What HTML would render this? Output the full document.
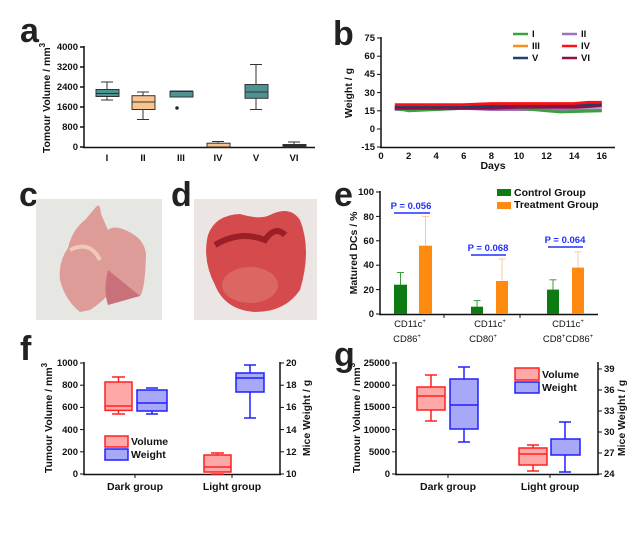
<!DOCTYPE html>
<html><head><meta charset="utf-8"><style>
html,body{margin:0;padding:0;background:#fff;}
svg{display:block;font-family:"Liberation Sans",Arial,sans-serif;}
.t{font-size:9.5px;font-weight:bold;fill:#111;}
.big{font-size:34px;font-weight:bold;fill:#222;}
.lab{font-size:10.5px;font-weight:bold;fill:#111;}
</style></head><body>
<svg width="639" height="549" viewBox="0 0 639 549" xmlns="http://www.w3.org/2000/svg">
<!-- panel a -->
<text class="big" x="20" y="42">a</text>
<g stroke="#111" stroke-width="1.5" fill="none">
<line x1="84" y1="46" x2="84" y2="148"/><line x1="83" y1="147.5" x2="315" y2="147.5"/>
<line x1="80" y1="47" x2="84" y2="47"/><line x1="80" y1="67" x2="84" y2="67"/><line x1="80" y1="87" x2="84" y2="87"/><line x1="80" y1="107" x2="84" y2="107"/><line x1="80" y1="127" x2="84" y2="127"/><line x1="80" y1="147" x2="84" y2="147"/>
</g>
<g class="t" text-anchor="end"><text x="78" y="50">4000</text><text x="78" y="70">3200</text><text x="78" y="90">2400</text><text x="78" y="110">1600</text><text x="78" y="130">800</text><text x="78" y="150">0</text></g>
<g class="t" text-anchor="middle"><text x="107" y="161">I</text><text x="143" y="161">II</text><text x="181" y="161">III</text><text x="218" y="161">IV</text><text x="256" y="161">V</text><text x="294" y="161">VI</text></g>
<text class="lab" transform="translate(50,98) rotate(-90)" text-anchor="middle">Tomour Volume / mm<tspan dy="-5" font-size="8">3</tspan></text>
<g stroke="#333" stroke-width="1">
<line x1="107" y1="82" x2="107" y2="100"/><line x1="101" y1="82" x2="113" y2="82"/><line x1="101" y1="100" x2="113" y2="100"/>
<rect x="96" y="89.5" width="23" height="7" fill="#4e9393"/><line x1="96" y1="93.5" x2="119" y2="93.5"/>
<line x1="143" y1="92" x2="143" y2="119.5"/><line x1="137" y1="92" x2="149" y2="92"/><line x1="137" y1="119.5" x2="149" y2="119.5"/>
<rect x="132" y="95.7" width="23" height="13.8" fill="#f9c48e"/><line x1="132" y1="102" x2="155" y2="102"/>
<line x1="170" y1="91" x2="193" y2="91"/>
<rect x="170" y="91.5" width="23" height="5.5" fill="#4e9393"/><circle cx="177" cy="108" r="1.3" fill="#111"/>
<line x1="218" y1="141.5" x2="218" y2="143"/><line x1="212" y1="141.5" x2="224" y2="141.5"/>
<rect x="207" y="143.2" width="23" height="3.8" fill="#f9c48e"/>
<line x1="256" y1="64.5" x2="256" y2="109.5"/><line x1="250" y1="64.5" x2="262" y2="64.5"/><line x1="250" y1="109.5" x2="262" y2="109.5"/>
<rect x="245" y="84.5" width="23" height="13.8" fill="#4e9393"/><line x1="245" y1="92" x2="268" y2="92"/>
<line x1="294" y1="142" x2="294" y2="144.5"/><line x1="288" y1="142" x2="300" y2="142"/>
<rect x="283" y="144.5" width="23" height="2.5" fill="#3a2a1a"/>
</g>
<!-- panel b -->
<text class="big" x="333" y="45">b</text>
<g stroke="#111" stroke-width="1.5" fill="none">
<line x1="381" y1="37" x2="381" y2="148"/><line x1="380" y1="147.5" x2="615" y2="147.5"/>
</g>
<g stroke="#111" stroke-width="1">
<line x1="377" y1="38" x2="381" y2="38"/><line x1="377" y1="56.2" x2="381" y2="56.2"/><line x1="377" y1="74.4" x2="381" y2="74.4"/><line x1="377" y1="92.6" x2="381" y2="92.6"/><line x1="377" y1="110.8" x2="381" y2="110.8"/><line x1="377" y1="129" x2="381" y2="129"/><line x1="377" y1="147" x2="381" y2="147"/>
</g>
<g class="t" text-anchor="end"><text x="375" y="41">75</text><text x="375" y="59">60</text><text x="375" y="77">45</text><text x="375" y="96">30</text><text x="375" y="114">15</text><text x="375" y="132">0</text><text x="375" y="150">-15</text></g>
<g class="t" text-anchor="middle"><text x="381" y="159">0</text><text x="408.6" y="159">2</text><text x="436.2" y="159">4</text><text x="463.8" y="159">6</text><text x="491.4" y="159">8</text><text x="519" y="159">10</text><text x="546.6" y="159">12</text><text x="574.2" y="159">14</text><text x="601.8" y="159">16</text></g>
<text class="lab" x="493" y="169" text-anchor="middle">Days</text>
<text class="lab" transform="translate(352,93) rotate(-90)" text-anchor="middle">Weight / g</text>
<g fill="none" stroke-width="2.8" stroke-linejoin="round">
<polyline stroke="#a070c0" points="394.8,109.6 436,109.6 463.8,108.4 491,109.6 546,109.6 601.8,109.6"/>
<polyline stroke="#3aa040" points="394.8,108.4 408.6,110.8 463.8,108.4 519,108.4 546.6,110.8 560,112 601.8,110.8"/>
<polyline stroke="#ff8c1a" points="394.8,107.2 408.6,106 463.8,106 491.4,104.7 574,104.7 601.8,103.5"/>
<polyline stroke="#1f3f70" points="394.8,107.2 463.8,107.2 491.4,106 546.6,106 560,104.7 601.8,104.7"/>
<polyline stroke="#8b1045" points="394.8,108.4 491.4,108.4 519,107.2 574,107.2 601.8,106"/>
<polyline stroke="#ff1010" points="394.8,104.7 463.8,104.7 491.4,103.5 574,103.5 588,102.3 601.8,102.3"/>
</g>
<g stroke-width="2.5">
<line x1="513" y1="34" x2="528" y2="34" stroke="#3aa040"/><line x1="562" y1="34" x2="577" y2="34" stroke="#a070c0"/>
<line x1="513" y1="46" x2="528" y2="46" stroke="#ff8c1a"/><line x1="562" y1="46" x2="577" y2="46" stroke="#ff1010"/>
<line x1="513" y1="58" x2="528" y2="58" stroke="#1f3f70"/><line x1="562" y1="58" x2="577" y2="58" stroke="#8b1045"/>
</g>
<g class="t"><text x="532" y="37">I</text><text x="581" y="37">II</text><text x="532" y="49">III</text><text x="581" y="49">IV</text><text x="532" y="61">V</text><text x="581" y="61">VI</text></g>
<!-- photos -->
<text class="big" x="19" y="206">c</text>
<rect x="36" y="199" width="126" height="121" fill="#e6e6e3"/>
<path d="M96,207 Q100,202 101,214 L108,230 Q114,225 125,230 Q145,238 146,255 Q145,290 140,296 L108,305 L112,290 Q105,300 90,310 L80,312 Q65,300 60,280 Q58,262 68,248 Q72,230 85,220 Z" fill="#dd9c98"/>
<path d="M108,270 Q103,290 108,305 Q125,300 140,296" fill="#c9707a"/>
<path d="M70,250 Q90,240 100,260" stroke="#f0c8b8" stroke-width="4" fill="none"/>
<text class="big" x="171" y="206">d</text>
<rect x="194" y="199" width="123" height="121" fill="#ebe5e3"/>
<path d="M208,235 Q215,215 240,214 Q260,220 270,215 Q290,205 300,220 Q312,250 300,290 Q285,312 255,312 Q225,310 215,285 Q202,260 208,235 Z" fill="#d54a4c"/>
<path d="M215,245 Q240,230 265,240 Q275,225 285,235" stroke="#9c1e26" stroke-width="6" fill="none"/>
<ellipse cx="250" cy="285" rx="28" ry="18" fill="#e07a72" opacity="0.6"/>
<!-- panel e -->
<text class="big" x="334" y="206">e</text>
<g stroke="#111" stroke-width="1.5" fill="none">
<line x1="380" y1="191" x2="380" y2="315"/><line x1="379" y1="314.5" x2="598" y2="314.5"/>
</g>
<g stroke="#111" stroke-width="1">
<line x1="376" y1="192" x2="380" y2="192"/><line x1="376" y1="216.4" x2="380" y2="216.4"/><line x1="376" y1="240.8" x2="380" y2="240.8"/><line x1="376" y1="265.2" x2="380" y2="265.2"/><line x1="376" y1="289.6" x2="380" y2="289.6"/><line x1="376" y1="314" x2="380" y2="314"/>
<line x1="444" y1="314" x2="444" y2="318"/><line x1="520" y1="314" x2="520" y2="318"/>
</g>
<g class="t" text-anchor="end"><text x="374" y="195">100</text><text x="374" y="220">80</text><text x="374" y="244">60</text><text x="374" y="268">40</text><text x="374" y="293">20</text><text x="374" y="317">0</text></g>
<text class="lab" transform="translate(357,253) rotate(-90)" text-anchor="middle" font-size="10">Matured DCs / %</text>
<g stroke-width="1">
<line x1="400.5" y1="272.5" x2="400.5" y2="285" stroke="#3aa040"/><line x1="397" y1="272.5" x2="404" y2="272.5" stroke="#3aa040"/>
<rect x="394" y="284.7" width="13" height="29.3" fill="#0e7a12"/>
<line x1="425.5" y1="216.4" x2="425.5" y2="246" stroke="#fcc898"/><line x1="422" y1="216.4" x2="429" y2="216.4" stroke="#fcc898"/>
<rect x="419" y="245.7" width="13" height="68.3" fill="#ff8a10"/>
<line x1="477" y1="300.6" x2="477" y2="307" stroke="#3aa040"/><line x1="473.5" y1="300.6" x2="480.5" y2="300.6" stroke="#3aa040"/>
<rect x="471" y="306.7" width="12" height="7.3" fill="#0e7a12"/>
<line x1="502" y1="259" x2="502" y2="281" stroke="#fcc898"/><line x1="498.5" y1="259" x2="505.5" y2="259" stroke="#fcc898"/>
<rect x="496" y="281" width="12" height="33" fill="#ff8a10"/>
<line x1="553" y1="279.8" x2="553" y2="290" stroke="#3aa040"/><line x1="549.5" y1="279.8" x2="556.5" y2="279.8" stroke="#3aa040"/>
<rect x="547" y="289.6" width="12" height="24.4" fill="#0e7a12"/>
<line x1="578" y1="251.8" x2="578" y2="268" stroke="#fcc898"/><line x1="574.5" y1="251.8" x2="581.5" y2="251.8" stroke="#fcc898"/>
<rect x="572" y="267.6" width="12" height="46.4" fill="#ff8a10"/>
</g>
<g stroke="#2030ff" stroke-width="1.5"><line x1="394" y1="213" x2="430" y2="213"/><line x1="471" y1="255" x2="506" y2="255"/><line x1="548" y1="247" x2="583" y2="247"/></g>
<g class="t" fill="#2030ff" style="fill:#2030ff" text-anchor="middle" font-size="9.5"><text x="411" y="209">P = 0.056</text><text x="488" y="251">P = 0.068</text><text x="565" y="243">P = 0.064</text></g>
<rect x="497" y="189" width="14" height="7" fill="#0e7a12"/><rect x="497" y="202" width="14" height="7" fill="#ff8a10"/>
<g class="lab" font-size="10"><text x="514" y="196">Control Group</text><text x="514" y="208">Treatment Group</text></g>
<g class="t" text-anchor="middle" font-size="9.5" style="font-weight:normal">
<text x="410" y="327">CD11c<tspan dy="-4" font-size="6">+</tspan></text><text x="490" y="327">CD11c<tspan dy="-4" font-size="6">+</tspan></text><text x="568" y="327">CD11c<tspan dy="-4" font-size="6">+</tspan></text>
<text x="407" y="342">CD86<tspan dy="-4" font-size="6">+</tspan></text><text x="483" y="342">CD80<tspan dy="-4" font-size="6">+</tspan></text><text x="568" y="342">CD8<tspan dy="-4" font-size="6">+</tspan><tspan dy="4">CD86</tspan><tspan dy="-4" font-size="6">+</tspan></text>
</g>
<!-- panel f -->
<text class="big" x="20" y="360">f</text>
<g stroke="#111" stroke-width="1.5" fill="none">
<line x1="84" y1="362" x2="84" y2="475"/><line x1="280" y1="362" x2="280" y2="475"/><line x1="83" y1="474.5" x2="281" y2="474.5"/>
</g>
<g stroke="#111" stroke-width="1">
<line x1="80" y1="363" x2="84" y2="363"/><line x1="80" y1="385.2" x2="84" y2="385.2"/><line x1="80" y1="407.4" x2="84" y2="407.4"/><line x1="80" y1="429.6" x2="84" y2="429.6"/><line x1="80" y1="451.8" x2="84" y2="451.8"/><line x1="80" y1="474" x2="84" y2="474"/>
<line x1="280" y1="363" x2="284" y2="363"/><line x1="280" y1="385.2" x2="284" y2="385.2"/><line x1="280" y1="407.4" x2="284" y2="407.4"/><line x1="280" y1="429.6" x2="284" y2="429.6"/><line x1="280" y1="451.8" x2="284" y2="451.8"/><line x1="280" y1="474" x2="284" y2="474"/>
<line x1="135" y1="474" x2="135" y2="478"/><line x1="232" y1="474" x2="232" y2="478"/>
</g>
<g class="t" text-anchor="end"><text x="78" y="366">1000</text><text x="78" y="388">800</text><text x="78" y="410">600</text><text x="78" y="433">400</text><text x="78" y="455">200</text><text x="78" y="477">0</text></g>
<g class="t"><text x="286" y="366">20</text><text x="286" y="388">18</text><text x="286" y="410">16</text><text x="286" y="433">14</text><text x="286" y="455">12</text><text x="286" y="477">10</text></g>
<g class="lab" text-anchor="middle"><text x="135" y="490">Dark group</text><text x="232" y="490">Light group</text></g>
<text class="lab" transform="translate(52,418) rotate(-90)" text-anchor="middle">Tumour Volume / mm<tspan dy="-5" font-size="8">3</tspan></text>
<text class="lab" transform="translate(310,418) rotate(-90)" text-anchor="middle">Mice Weight / g</text>
<g stroke-width="1.5">
<g stroke="#ff2020"><line x1="118.5" y1="377" x2="118.5" y2="382"/><line x1="112" y1="377" x2="125" y2="377"/><line x1="118.5" y1="410" x2="118.5" y2="414"/><line x1="112" y1="414" x2="125" y2="414"/>
<rect x="105" y="382" width="27" height="28.4" fill="#ffa8a8"/><line x1="105" y1="406" x2="132" y2="406"/>
<line x1="217.5" y1="453" x2="217.5" y2="455"/><line x1="211" y1="453" x2="224" y2="453"/><line x1="211" y1="474" x2="224" y2="474"/>
<rect x="204" y="455" width="27" height="17" fill="#ffa8a8"/><line x1="204" y1="467" x2="231" y2="467"/>
<rect x="105" y="436" width="23" height="11" fill="#ffa8a8"/></g>
<g stroke="#2020ff"><line x1="146" y1="388" x2="158" y2="388"/><line x1="146" y1="414" x2="158" y2="414"/><line x1="152" y1="411" x2="152" y2="414"/>
<rect x="137" y="390" width="30" height="21" fill="#a8a8f8"/><line x1="137" y1="403" x2="167" y2="403"/>
<line x1="250" y1="365" x2="250" y2="373"/><line x1="244" y1="365" x2="256" y2="365"/><line x1="250" y1="392" x2="250" y2="418"/><line x1="244" y1="418" x2="256" y2="418"/>
<rect x="236" y="373" width="28" height="19" fill="#a8a8f8"/><line x1="236" y1="378" x2="264" y2="378"/>
<rect x="105" y="449" width="23" height="11" fill="#a8a8f8"/></g>
</g>
<g class="lab"><text x="131" y="445">Volume</text><text x="131" y="458">Weight</text></g>
<!-- panel g -->
<text class="big" x="334" y="366">g</text>
<g stroke="#111" stroke-width="1.5" fill="none">
<line x1="396" y1="362" x2="396" y2="475"/><line x1="598" y1="362" x2="598" y2="475"/><line x1="395" y1="474.5" x2="599" y2="474.5"/>
</g>
<g stroke="#111" stroke-width="1">
<line x1="392" y1="363" x2="396" y2="363"/><line x1="392" y1="385.2" x2="396" y2="385.2"/><line x1="392" y1="407.4" x2="396" y2="407.4"/><line x1="392" y1="429.6" x2="396" y2="429.6"/><line x1="392" y1="451.8" x2="396" y2="451.8"/><line x1="392" y1="474" x2="396" y2="474"/>
<line x1="598" y1="369" x2="602" y2="369"/><line x1="598" y1="390" x2="602" y2="390"/><line x1="598" y1="411" x2="602" y2="411"/><line x1="598" y1="432" x2="602" y2="432"/><line x1="598" y1="453" x2="602" y2="453"/><line x1="598" y1="474" x2="602" y2="474"/>
<line x1="448" y1="474" x2="448" y2="478"/><line x1="550" y1="474" x2="550" y2="478"/>
</g>
<g class="t" text-anchor="end"><text x="390" y="366">25000</text><text x="390" y="388">20000</text><text x="390" y="410">15000</text><text x="390" y="433">10000</text><text x="390" y="455">5000</text><text x="390" y="477">0</text></g>
<g class="t"><text x="604" y="372">39</text><text x="604" y="393">36</text><text x="604" y="414">33</text><text x="604" y="435">30</text><text x="604" y="456">27</text><text x="604" y="477">24</text></g>
<g class="lab" text-anchor="middle"><text x="448" y="490">Dark group</text><text x="550" y="490">Light group</text></g>
<text class="lab" transform="translate(360,418) rotate(-90)" text-anchor="middle">Tumour Volume / mm<tspan dy="-5" font-size="8">3</tspan></text>
<text class="lab" transform="translate(625,418) rotate(-90)" text-anchor="middle">Mice Weight / g</text>
<g stroke-width="1.5">
<g stroke="#ff2020"><line x1="431" y1="375" x2="431" y2="387"/><line x1="425" y1="375" x2="437" y2="375"/><line x1="431" y1="410" x2="431" y2="421"/><line x1="425" y1="421" x2="437" y2="421"/>
<rect x="417" y="387" width="28" height="23" fill="#ffa8a8"/><line x1="417" y1="396" x2="445" y2="396"/>
<line x1="533" y1="445" x2="533" y2="448"/><line x1="527" y1="445" x2="539" y2="445"/><line x1="533" y1="465" x2="533" y2="471"/><line x1="527" y1="471" x2="539" y2="471"/>
<rect x="519" y="448" width="28" height="17" fill="#ffa8a8"/><line x1="519" y1="454" x2="547" y2="454"/>
<rect x="515" y="368" width="24" height="12" fill="#ffa8a8"/></g>
<g stroke="#2020ff"><line x1="464" y1="367" x2="464" y2="379"/><line x1="458" y1="367" x2="470" y2="367"/><line x1="464" y1="429" x2="464" y2="442"/><line x1="458" y1="442" x2="470" y2="442"/>
<rect x="450" y="379" width="28" height="50" fill="#a8a8f8"/><line x1="450" y1="405" x2="478" y2="405"/>
<line x1="565" y1="422" x2="565" y2="439"/><line x1="559" y1="422" x2="571" y2="422"/><line x1="565" y1="455" x2="565" y2="472"/><line x1="559" y1="472" x2="571" y2="472"/>
<rect x="551" y="439" width="29" height="16" fill="#a8a8f8"/>
<rect x="515" y="382" width="24" height="11" fill="#a8a8f8"/></g>
</g>
<g class="lab"><text x="542" y="378">Volume</text><text x="542" y="391">Weight</text></g>
</svg>
</body></html>
